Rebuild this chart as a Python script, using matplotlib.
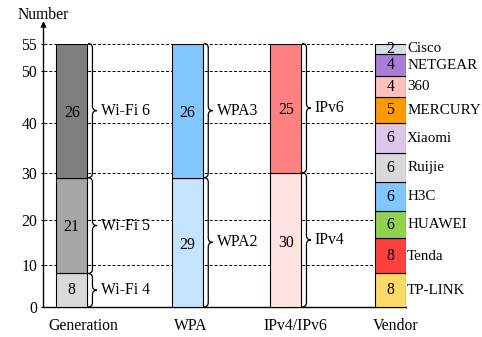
import numpy as np
import matplotlib
matplotlib.use('Agg')
import matplotlib.pyplot as plt
from matplotlib.path import Path
from matplotlib.patches import PathPatch
from matplotlib.transforms import IdentityTransform

plt.rcParams['font.family'] = ['Liberation Serif', 'DejaVu Serif']
plt.rcParams['font.size'] = 11.3

# data
groups = ['Generation', 'WPA', 'IPv4/IPv6', 'Vendor']

gen_names = ['Wi-Fi 4', 'Wi-Fi 5', 'Wi-Fi 6']
gen_vals = [8, 21, 26]
gen_colors = ['#d9d9d9', '#a6a6a6', '#7f7f7f']

wpa_names = ['WPA2', 'WPA3']
wpa_vals = [29, 26]
wpa_colors = ['#c4e3fc', '#80c6ff']

ip_names = ['IPv4', 'IPv6']
ip_vals = [30, 25]
ip_colors = ['#ffe3e3', '#ff8080']

vendor_names = ['TP-LINK', 'Tenda', 'HUAWEI', 'H3C', 'Ruijie', 'Xiaomi',
                'MERCURY', '360', 'NETGEAR', 'Cisco']
vendor_vals = [8, 8, 6, 6, 6, 6, 5, 4, 4, 2]
vendor_colors = ['#ffd966', '#ff4040', '#92d050', '#80c6ff', '#d9d9d9',
                 '#dcc6ec', '#ff9900', '#ffc0c0', '#a87dd8', '#d5dfe8']

yticks = [0, 10, 20, 30, 40, 50, 55]

# the original axis is slightly stretched towards the top
c = 0.00312
def fwd(v):
    v = np.asarray(v, dtype=float)
    return v + c * v * np.abs(v)
def inv(u):
    u = np.asarray(u, dtype=float)
    return np.sign(u) * (-1 + np.sqrt(1 + 4 * c * np.abs(u))) / (2 * c)

W, H = 482, 337
fig = plt.figure(figsize=(W / 100, H / 100), dpi=100)
ax = fig.add_axes([43.5 / W, 30 / H, 362.5 / W, 263.5 / H])
ax.set_yscale('function', functions=(fwd, inv))
ax.set_xlim(0, 362.5)
ax.set_ylim(0, 55)

bar_x = [28.2, 144, 242.2, 346.8]
label_x = [39.5, 147.5, 252, 352.5]
bw = 30.5

ax.set_yticks(yticks)
ax.set_yticklabels([str(t) for t in yticks])
ax.tick_params(axis='y', length=2.2, width=0.8, pad=2.3)
ax.set_xticks(label_x)
ax.set_xticklabels(groups)
ax.tick_params(axis='x', length=0, pad=8)
ax.yaxis.grid(True, linestyle=(0, (3, 2)), color='k', lw=0.7)
ax.set_axisbelow(True)
for s in ['top', 'right', 'left']:
    ax.spines[s].set_visible(False)
ax.spines['bottom'].set_linewidth(1.0)

ax.annotate('', xy=(0, 1.085), xycoords='axes fraction', xytext=(0, 0),
            arrowprops=dict(arrowstyle='-|>', color='k', lw=1.0,
                            mutation_scale=8, shrinkA=0, shrinkB=0),
            annotation_clip=False)
ax.text(0, 1.11, 'Number', transform=ax.transAxes, ha='center', va='center')


def brace(ax, xr, y0, y1, text):
    # curly brace drawn in pixels to the right of a segment
    px, py0 = ax.transData.transform((xr, y0))
    _, py1 = ax.transData.transform((xr, y1))
    px += 1
    h = 4.5
    ym = (py0 + py1) / 2
    verts = [(px, py0), (px + h, py0), (px + h, py0 + h),
             (px + h, ym - h), (px + h, ym), (px + 2 * h, ym),
             (px + h, ym), (px + h, ym + h),
             (px + h, py1 - h), (px + h, py1), (px, py1)]
    codes = [Path.MOVETO, Path.CURVE3, Path.CURVE3,
             Path.LINETO, Path.CURVE3, Path.CURVE3,
             Path.CURVE3, Path.CURVE3,
             Path.LINETO, Path.CURVE3, Path.CURVE3]
    ax.add_patch(PathPatch(Path(verts, codes), fc='none', ec='k', lw=0.9,
                           transform=IdentityTransform(), clip_on=False,
                           zorder=4))
    tx, ty = ax.transData.inverted().transform((px + 2 * h + 4, ym))
    ax.text(tx, ty, text, ha='left', va='center')


stacks = [(gen_names, gen_vals, gen_colors),
          (wpa_names, wpa_vals, wpa_colors),
          (ip_names, ip_vals, ip_colors)]
for x, (names, vals, cols) in zip(bar_x[:3], stacks):
    bottom = 0
    for name, v, col in zip(names, vals, cols):
        ax.bar(x, v, bottom=bottom, width=bw, color=col, edgecolor='k',
               lw=0.8, zorder=3)
        ax.text(x, bottom + v / 2, str(v), ha='center', va='center', zorder=5)
        brace(ax, x + bw / 2, bottom, bottom + v, name)
        bottom += v

x = bar_x[3]
bottom = 0
for name, v, col in zip(vendor_names, vendor_vals, vendor_colors):
    ax.bar(x, v, bottom=bottom, width=bw, color=col, edgecolor='k',
           lw=0.8, zorder=3)
    ax.text(x, bottom + v / 2, str(v), ha='center', va='center', zorder=5)
    ax.text(x + bw / 2 + 1.5, bottom + v / 2, name, ha='left', va='center',
            fontsize=10.8)
    bottom += v

fig.savefig('out.png', dpi=100)
